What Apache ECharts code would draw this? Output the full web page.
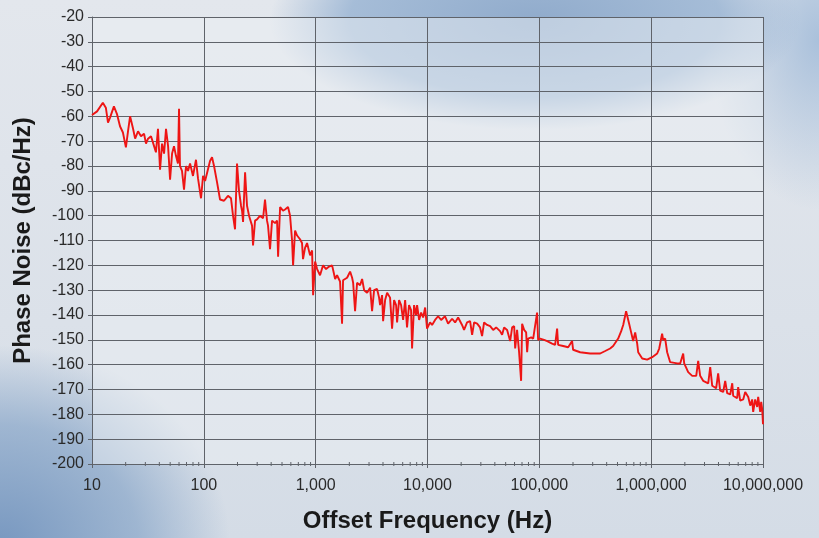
<!DOCTYPE html>
<html><head><meta charset="utf-8">
<script src="https://cdn.jsdelivr.net/npm/echarts/dist/echarts.min.js"></script>
<style>
html,body{margin:0;padding:0;}
body{width:819px;height:538px;overflow:hidden;
background:
 radial-gradient(ellipse 265px 110px at 535px 20px, rgba(140,168,202,0.95) 0%, rgba(150,178,210,0.8) 70%, rgba(150,178,210,0) 100%),
 radial-gradient(ellipse 110px 170px at 819px 40px, rgba(160,186,216,0.85), rgba(165,190,218,0) 100%),
 radial-gradient(ellipse 230px 200px at 0px 545px, rgba(120,152,192,1) 0%, rgba(135,165,200,0.7) 60%, rgba(135,165,200,0) 100%),
 linear-gradient(180deg, #e3e7ed 0%, #dbe1e9 60%, #d4dce6 100%);}
#chart{width:819px;height:538px;}
</style></head><body><div id="chart"></div><script>
const freqHz = [10,11.1,12.5,13.3,13.9,14.5,15.7,16.7,17.8,18.9,
20.1,21,21.9,23.3,24.3,25.8,27.4,29.2,30.4,31.7,
33.7,35.9,37.3,38.9,40.6,42.3,44.1,45.9,47.9,49.9,
52,54.1,56.4,58.7,60,61.2,63.8,66.5,69.3,72.2,
75.3,80,85.1,88.7,94.4,98.4,102.6,106.9,113.6,118.4,
123.4,131.2,139.6,151.6,164.4,175,182.4,190.1,198.1,206.4,
215.1,219.7,224.3,233.8,243.3,253.6,269.8,275.4,287.1,299.2,
318.4,338.8,352.4,367.3,375,390.8,407.4,433.5,451.9,461.3,
480.8,510.5,532.1,566.2,590.2,615.2,628.1,654.6,682.3,724.4,
755.1,770.9,803.5,837.5,891.3,929,948.4,988.5,1030,1094,
1164,1239,1318,1403,1493,1553,1652,1722,1758,1910,
2032,2118,2163,2251,2346,2496,2602,2712,2884,3069,
3194,3330,3540,3690,3767,3926,4009,4178,4355,4626,
4822,5026,5238,5346,5572,5807,6053,6310,6561,6839,
7129,7278,7586,7907,8072,8414,8770,9141,9528,9908,
10540,10990,11690,12440,13240,14350,15280,16600,17660,18790,
20370,21230,22590,24040,25060,26120,27800,29510,30760,32060,
34120,36310,38640,41110,44570,46450,48420,51520,54830,57150,
59560,60810,63240,65920,68710,70150,73110,76210,77800,79430,
84530,88100,91630,95500,97500,101600,110400,117500,130000,138400,
144200,147200,163300,181100,188400,196400,200500,231700,284400,349900,
388100,429500,457100,507000,539500,562300,597000,635300,662200,690200,
719400,749900,765600,831800,920500,1021000,1132000,1180000,1253000,1280000,
1334000,1390000,1479000,1710000,1817000,1933000,1974000,2143000,2328000,2529000,
2633000,2742000,2917000,3236000,3373000,3515000,3811000,3972000,4140000,4406000,
4592000,4786000,5093000,5309000,5411000,5875000,5998000,6252000,6653000,6934000,
7379000,7691000,8000000,8171000,8511000,8872000,9057000,9441000,9638000,9840000,
10000000];
const phaseNoise = [-59.5,-58,-54.5,-56.5,-62.5,-60.5,-56,-59,-64,-66.5,
-72.5,-66,-60,-65,-69,-66,-68,-67,-71,-69,
-68,-72,-74.5,-65,-81.5,-71,-75,-65,-72,-85.5,
-75,-72,-76,-79,-57,-80,-82,-89.5,-80,-82,
-79,-84,-77.5,-85,-93,-84,-86,-86.5,-78,-76.5,
-80,-86.5,-93.5,-94,-92,-93,-100,-105.5,-79,-90,
-96,-98,-102.5,-82.5,-96,-100,-104,-112,-102,-101.5,
-100,-101,-93.5,-102,-104,-113.5,-102,-103,-102,-116.5,
-96.5,-98,-97.5,-96.5,-100,-110,-120,-106,-108,-109.5,
-111,-117.5,-113,-111,-116,-114,-132,-118.5,-121.5,-124,
-120,-121.5,-120.5,-120,-125.5,-124,-126.5,-143.5,-126,-125,
-122.5,-125,-127,-138.5,-127,-128,-125.5,-130,-131,-129,
-138.5,-130,-129.5,-133,-136,-132,-142.5,-134,-131,-133,
-145.5,-134,-136,-143,-134,-136,-142,-134,-145,-136,
-138,-153.5,-136,-140,-136,-142,-139,-141,-137,-145.5,
-143,-144,-142,-140.5,-142,-140.5,-143.5,-141.5,-143,-141,
-144,-146,-143,-142.5,-148,-143,-143.5,-145,-148.5,-143,
-144,-144.5,-146,-145,-146.5,-148,-145,-146,-150.5,-145,
-144.5,-153.5,-146,-155,-166.5,-143.5,-146,-147,-155,-149.5,
-149,-149.5,-150,-139,-150,-149.5,-150,-150.5,-151.5,-152,
-145.5,-152,-152.5,-153,-153.5,-150.5,-154,-155,-155.5,-155.5,
-154.5,-153.5,-152.5,-149.5,-146.5,-144,-138.5,-143.5,-147,-150.5,
-147,-151.5,-155,-157.5,-158,-157,-155.5,-153.5,-147.5,-150,
-149.5,-155,-159,-159.5,-159.5,-155.5,-159.5,-163,-164.5,-164.5,
-158.5,-164.5,-166.5,-167.5,-161,-168.5,-169.5,-163.5,-170.5,-171,
-166.5,-171.5,-172,-167.5,-172.5,-173.5,-169,-174.5,-174,-171,
-173,-176.5,-174,-179,-174,-177,-173,-179,-175,-178,
-184];
const xMin = 10, xMax = 10000000;
const yMin = -200, yMax = -20, yStep = 10;
const minorMultipliers = [2,3,4,5,6,7,8,9];
const decades = [10,100,1000,10000,100000,1000000];

const n = Math.min(freqHz.length, phaseNoise.length);
const lineData = [];
for (let i = 0; i < n; i++) lineData.push([freqHz[i], phaseNoise[i]]);
const minorData = [];
decades.forEach(d => minorMultipliers.forEach(m => minorData.push([d*m, yMin])));

const chart = echarts.init(document.getElementById('chart'), null, {renderer:'canvas'});
const font = '"Liberation Sans", Arial, sans-serif';
chart.setOption({
  backgroundColor: 'transparent',
  animation: false,
  grid: {left: 92, right: 56, top: 17, bottom: 72, show: true,
         backgroundColor: 'rgba(236,239,244,0.5)', borderWidth: 0},
  xAxis: {
    type: 'log', logBase: 10, min: xMin, max: xMax, splitNumber: 6,
    name: 'Offset Frequency (Hz)', nameLocation: 'middle', nameGap: 45,
    nameTextStyle: {fontFamily: font, fontWeight: 'bold', fontSize: 24, color: '#1a1a1a'},
    axisLine: {show: true, lineStyle: {color: '#5f636a', width: 1}},
    axisTick: {show: true, length: 4, lineStyle: {color: '#5f636a'}},
    axisLabel: {fontFamily: font, fontSize: 16, color: '#2a2a2a', margin: 14,
      formatter: v => Math.round(v).toLocaleString('en-US')},
    splitLine: {show: true, lineStyle: {color: '#5f636a', width: 1}},
    minorTick: {show: false}, minorSplitLine: {show: false}
  },
  yAxis: {
    type: 'value', min: yMin, max: yMax, interval: yStep,
    name: 'Phase Noise (dBc/Hz)', nameLocation: 'middle', nameGap: 57,
    nameTextStyle: {fontFamily: font, fontWeight: 'bold', fontSize: 24, color: '#1a1a1a'},
    axisLine: {show: true, lineStyle: {color: '#5f636a', width: 1}},
    axisTick: {show: true, length: 4, lineStyle: {color: '#5f636a'}},
    axisLabel: {fontFamily: font, fontSize: 16, color: '#2a2a2a', margin: 8},
    splitLine: {show: true, lineStyle: {color: '#5f636a', width: 1}}
  },
  series: [
    {
      type: 'custom', silent: true, clip: false, z: 1,
      data: minorData,
      renderItem: (params, api) => {
        const p = api.coord([api.value(0), api.value(1)]);
        return {type: 'line', shape: {x1: p[0], y1: p[1]-2, x2: p[0], y2: p[1]+2},
                style: {stroke: '#5f636a', lineWidth: 1}};
      }
    },
    {
      type: 'line', data: lineData, showSymbol: false, symbol: 'none', z: 3,
      lineStyle: {color: '#ee1515', width: 1.9}
    }
  ]
});
</script></body></html>
